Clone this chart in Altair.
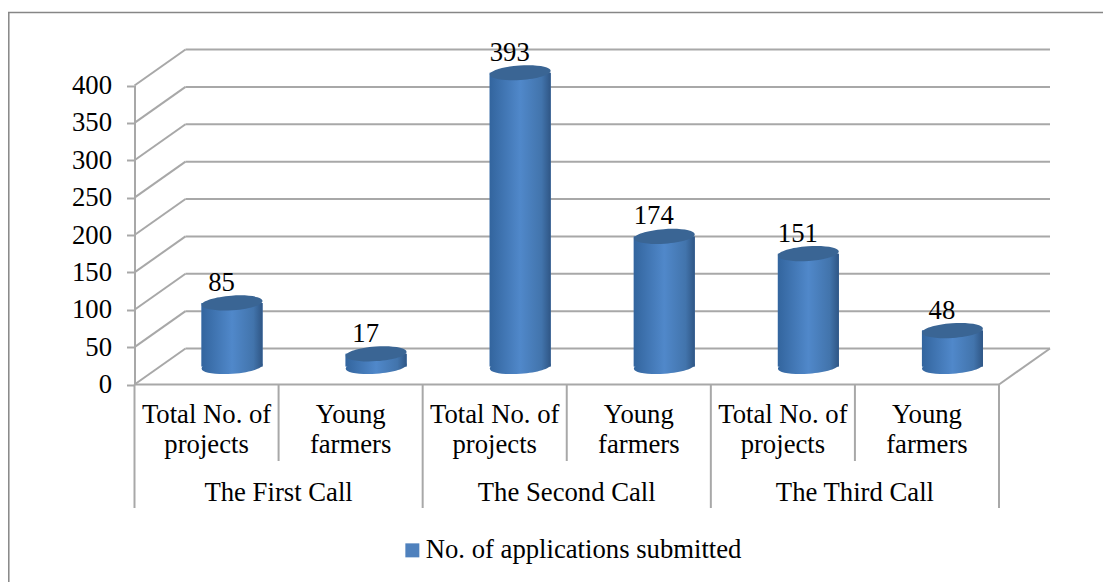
import math
import altair as alt
import pandas as pd

items = ["Total No. of\nprojects", "Young\nfarmers"] * 3
groups = ["The First Call", "The Second Call", "The Third Call"]
values = [85, 17, 393, 174, 151, 48]
series = "No. of applications submitted"
ticks = [0, 50, 100, 150, 200, 250, 300, 350, 400]

FONT = "Liberation Serif"
FS = 26.7
GRID = "#a8a8a8"
W, H = 1095, 574
CAT_PX = 144.08
DEPTH_X = 51 / CAT_PX        # depth of the box, in category units
DEPTH_Y = 36 / 0.7475        # depth of the box, in value units
BAR_W = 0.4235               # cylinder width, in category units

xs = alt.Scale(domain=[0, 6], range=[126.5, 991], nice=False, zero=False)
ys = alt.Scale(domain=[0, 400], range=[376.5, 77.5], nice=False, zero=False)


def ellipse_path(ry=0.24, deg=-4):
    k = 0.5523
    a = math.radians(deg)

    def p(x, y):
        xr = x * math.cos(a) - y * math.sin(a)
        yr = x * math.sin(a) + y * math.cos(a)
        return f"{xr:.4f} {yr:.4f}"

    return (
        f"M {p(-1, 0)} C {p(-1, -k*ry)} {p(-k, -ry)} {p(0, -ry)} "
        f"C {p(k, -ry)} {p(1, -k*ry)} {p(1, 0)} "
        f"C {p(1, k*ry)} {p(k, ry)} {p(0, ry)} "
        f"C {p(-k, ry)} {p(-1, k*ry)} {p(-1, 0)} Z"
    )


grad = alt.LinearGradient(
    gradient="linear", x1=0, x2=1, y1=0, y2=0,
    stops=[
        alt.GradientStop(offset=0, color="#33659e"),
        alt.GradientStop(offset=0.5, color="#5088ca"),
        alt.GradientStop(offset=0.85, color="#4274ac"),
        alt.GradientStop(offset=1, color="#2f5685"),
    ],
)

y_axis = alt.Axis(
    values=ticks, title=None, grid=False, offset=-126.5,
    domainColor=GRID, domainWidth=2, tickColor=GRID, tickWidth=2, tickSize=8,
    labelFont=FONT, labelFontSize=FS, labelColor="#000000", labelPadding=15,
    labelBaseline="middle",
)

X = lambda f: alt.X(f, type="quantitative", scale=xs, axis=None)
Y = lambda f: alt.Y(f, type="quantitative", scale=ys, axis=y_axis)

# ---- box: back wall, side wall, floor
back = pd.DataFrame({
    "x": [DEPTH_X] * len(ticks), "x2": [6 + DEPTH_X] * len(ticks),
    "y": [t + DEPTH_Y for t in ticks],
})
side = pd.DataFrame({
    "x": [0.0] * len(ticks), "x2": [DEPTH_X] * len(ticks),
    "y": ticks, "y2": [t + DEPTH_Y for t in ticks],
})
floor_edge = pd.DataFrame({"x": [6.0], "x2": [6 + DEPTH_X], "y": [0], "y2": [DEPTH_Y]})
front = pd.DataFrame({"x": [0.0], "x2": [6.0], "y": [0]})

rule = dict(color=GRID, strokeWidth=2)
back_l = alt.Chart(back).mark_rule(**rule).encode(x=X("x"), x2="x2", y=Y("y"))
side_l = alt.Chart(side).mark_rule(**rule).encode(x=X("x"), x2="x2", y=Y("y"), y2="y2")
edge_l = alt.Chart(floor_edge).mark_rule(**rule).encode(x=X("x"), x2="x2", y=Y("y"), y2="y2")
front_l = alt.Chart(front).mark_rule(**rule).encode(x=X("x"), x2="x2", y=Y("y"))

# ---- separators under the axis
sep = pd.DataFrame({"x": [i for i in range(7)], "y": [0] * 7, "major": [i % 2 == 0 for i in range(7)]})
sep_major = alt.Chart(sep[sep.major]).mark_rule(**rule).encode(x=X("x"), y=Y("y"), y2=alt.value(500))
sep_minor = alt.Chart(sep[~sep.major]).mark_rule(**rule).encode(x=X("x"), y=Y("y"), y2=alt.value(453))

# ---- cylinders
bars = pd.DataFrame({
    "cx": [i + 0.5 + DEPTH_X / 2 for i in range(6)],
    "base": [DEPTH_Y / 2] * 6,
    "value": values,
    "series": [series] * 6,
})
bars["x"] = bars.cx - BAR_W / 2
bars["x2"] = bars.cx + BAR_W / 2
bars["top"] = bars.value + bars.base
ELL = dict(shape=ellipse_path(), size=3721, filled=True, strokeWidth=0, opacity=1)

legend_l = alt.Chart(bars).mark_bar().encode(
    x=X("x"), x2="x2", y=Y("base"), y2="top",
    color=alt.Color("series:N", scale=alt.Scale(domain=[series], range=["#4f81bd"]), legend=alt.Legend(
        orient="none", legendX=391, legendY=529, title=None, symbolType="square", symbolSize=196,
        labelFont=FONT, labelFontSize=FS, labelColor="#000000", labelOffset=0, labelLimit=0,
        symbolStrokeWidth=0, padding=0,
    )),
)
bottom_l = alt.Chart(bars).mark_point(fill=grad, **ELL).encode(x=X("cx"), y=Y("base"))
body_l = alt.Chart(bars).mark_bar(color=grad).encode(x=X("x"), x2="x2", y=Y("base"), y2="top")
top_l = alt.Chart(bars).mark_point(fill="#3a6594", **ELL).encode(x=X("cx"), y=Y("top"))

value_l = alt.Chart(bars).mark_text(
    font=FONT, fontSize=FS, color="#000000", dx=-10.5, dy=-20, baseline="middle"
).encode(x=X("cx"), y=Y("top"), text=alt.Text("value:Q"))

# ---- category labels
txt = dict(font=FONT, fontSize=FS, color="#000000", align="center", baseline="alphabetic")
item_df = pd.DataFrame({"x": [i + 0.5 for i in range(6)], "t": items})
item_l = alt.Chart(item_df).mark_text(lineBreak="\n", lineHeight=30.5, **txt).encode(
    x=X("x"), y=alt.value(414.7), text="t:N")
group_df = pd.DataFrame({"x": [1, 3, 5], "t": groups})
group_l = alt.Chart(group_df).mark_text(**txt).encode(x=X("x"), y=alt.value(492.7), text="t:N")

# ---- outer frame (runs off the picture on the right and at the bottom)
frame_top = alt.Chart(pd.DataFrame({"a": [0]})).mark_rule(color="#868686", strokeWidth=1.5).encode(
    x=alt.value(0), x2=alt.value(W), y=alt.value(4.5))
frame_left = alt.Chart(pd.DataFrame({"a": [0]})).mark_rule(color="#868686", strokeWidth=1.5).encode(
    x=alt.value(0.8), y=alt.value(4), y2=alt.value(H))

chart = alt.layer(
    frame_top, frame_left, back_l, side_l, edge_l, sep_major, sep_minor, front_l,
    legend_l, bottom_l, body_l, top_l, value_l, item_l, group_l,
).properties(
    width=W, height=H, padding=0, autosize=alt.AutoSizeParams(type="none"),
).configure_view(stroke=None)

chart.save("out.html", embed_options={"renderer": "svg", "actions": False})
